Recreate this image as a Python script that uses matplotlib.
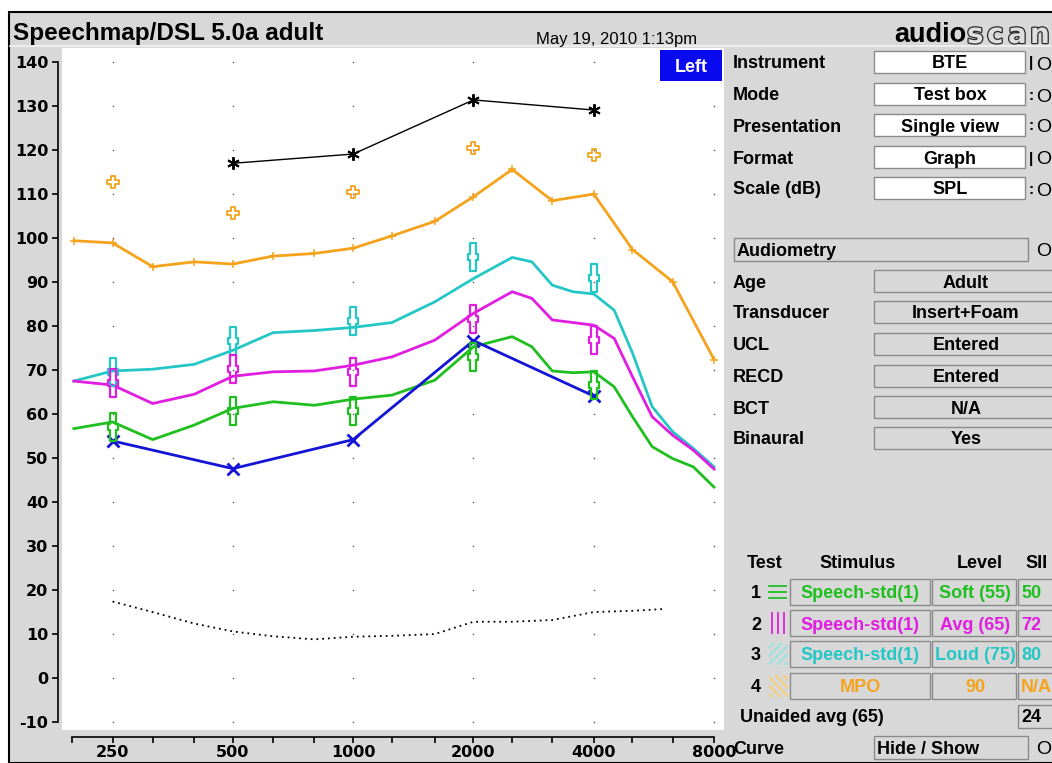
from pathlib import Path

import matplotlib

matplotlib.use("Agg")
import matplotlib.pyplot as plt
import matplotlib.patheffects as pe
import numpy as np
from matplotlib.lines import Line2D
from matplotlib.patches import Rectangle
from matplotlib.path import Path as MPath
from matplotlib.ticker import FixedLocator, FixedFormatter, NullFormatter

plt.rcParams["font.family"] = ["Liberation Sans", "DejaVu Sans"]
plt.rcParams["hatch.linewidth"] = 1.6
plt.rcParams["axes.unicode_minus"] = False

# ---- data ----
OCTAVE_FREQS = [250, 500, 1000, 2000, 4000, 8000]
OCTAVE_LABELS = ["250", "500", "1000", "2000", "4000", "8000"]
MINOR_FREQS = [198.4, 315, 400, 630, 800, 1250, 1600, 2500, 3150, 5000, 6300]
DB_TICKS = [-10, 0, 10, 20, 30, 40, 50, 60, 70, 80, 90, 100, 110, 120, 130, 140]

SPEECH_FREQS = [200, 250, 315, 400, 500, 630, 800, 1000, 1250, 1600, 2000,
                2500, 2800, 3150, 3550, 4000, 4500, 5000, 5600, 6300, 7100, 8000]
SOFT_55 = [56.7, 58.2, 54.2, 57.5, 61.3, 62.8, 62.0, 63.4, 64.3, 67.7, 75.3,
           77.6, 75.3, 69.8, 69.4, 69.6, 66.2, 59.4, 52.6, 49.9, 48.0, 43.4]
AVG_65 = [67.5, 66.6, 62.4, 64.5, 68.6, 69.6, 69.8, 71.1, 73.0, 76.8, 82.9,
          87.8, 86.3, 81.4, 80.8, 80.2, 77.2, 68.5, 59.4, 55.2, 51.8, 47.5]
LOUD_75 = [67.5, 69.8, 70.2, 71.3, 74.5, 78.5, 79.0, 79.7, 80.8, 85.5, 90.8,
           95.6, 94.6, 89.3, 87.8, 87.3, 83.6, 73.9, 61.7, 56.0, 52.2, 48.0]

MPO_FREQS = [200, 250, 315, 400, 500, 630, 800, 1000, 1250, 1600, 2000,
             2500, 3150, 4000, 5000, 6300, 8000]
MPO_90 = [99.4, 98.9, 93.5, 94.6, 94.1, 95.9, 96.5, 97.7, 100.5, 103.8, 109.4,
          115.6, 108.5, 110.0, 97.4, 90.1, 72.4]

TARGET_FREQS = [250, 500, 1000, 2000, 4000]
TARGET_SOFT = [57.1, 60.8, 60.7, 72.9, 66.6]
TARGET_AVG = [67.0, 70.2, 69.6, 81.7, 76.8]
TARGET_LOUD = [69.6, 76.7, 81.2, 95.6, 91.0]
TARGET_MPO = [112.7, 105.8, 110.5, 120.5, 118.9]

UCL_FREQS = [500, 1000, 2000, 4000]
UCL = [117.0, 119.1, 131.4, 129.1]

THRESH_FREQS = [250, 500, 1000, 2000, 4000]
THRESHOLD = [53.9, 47.6, 54.2, 76.7, 64.1]

NORMAL_FREQS = [250, 315, 400, 500, 630, 800, 1000, 1250, 1600, 2000, 2500,
                3150, 4000, 5000, 6000]
NORMAL = [17.4, 15.0, 12.4, 10.6, 9.5, 8.8, 9.4, 9.6, 10.0, 12.8, 12.8,
          13.2, 15.0, 15.3, 15.7]

SETUP_LABELS = ["Instrument", "Mode", "Presentation", "Format", "Scale (dB)"]
SETUP_VALUES = ["BTE", "Test box", "Single view", "Graph", "SPL"]
AUDIO_LABELS = ["Age", "Transducer", "UCL", "RECD", "BCT", "Binaural"]
AUDIO_VALUES = ["Adult", "Insert+Foam", "Entered", "Entered", "N/A", "Yes"]
TEST_STIMULUS = ["Speech-std(1)", "Speech-std(1)", "Speech-std(1)", "MPO"]
TEST_LEVEL = ["Soft (55)", "Avg (65)", "Loud (75)", "90"]
TEST_SII = ["50", "72", "80", "N/A"]

GREEN = "#1fbf1f"
MAGENTA = "#e11de1"
CYAN = "#25c6c6"
ORANGE = "#f5a21c"
BLUE = "#1414d6"
BG = "#d8d8d8"

W, H = 1052, 763


def fx(x):
    return x / W


def fy(y):
    return 1 - y / H


def cross_marker(v, h, hh):
    verts = [(-v, 1), (v, 1), (v, hh), (h, hh), (h, -hh), (v, -hh), (v, -1),
             (-v, -1), (-v, -hh), (-h, -hh), (-h, hh), (-v, hh), (-v, 1)]
    return MPath(verts, closed=True)


def build_plot():
    fig = plt.figure(figsize=(W / 100, H / 100), dpi=100)
    fig.patch.set_facecolor("white")

    def box(x0, y0, x1, y1, fc, ec="#8a8a8a"):
        fig.add_artist(Rectangle((fx(x0), fy(y1)), fx(x1) - fx(x0), fy(y0) - fy(y1),
                                 transform=fig.transFigure, facecolor=fc,
                                 edgecolor=ec, lw=1.0))

    def text(x, y, s, **kw):
        kw.setdefault("fontsize", 13)
        kw.setdefault("fontweight", "bold")
        kw.setdefault("va", "center_baseline")
        fig.text(fx(x), fy(y), s, **kw)

    # window background, kept behind the graph
    fig.add_artist(Rectangle((fx(9), 0), 1 - fx(9) + 0.01, fy(12), transform=fig.transFigure,
                             facecolor=BG, edgecolor="black", lw=1.5, zorder=-5))
    fig.add_artist(Line2D([fx(10), 1], [fy(46), fy(46)], transform=fig.transFigure,
                          color="#f2f2f2", lw=1.2, zorder=-4))

    # header
    text(13, 31, "Speechmap/DSL 5.0a adult", fontsize=17.5)
    text(617, 38, "May 19, 2010 1:13pm", fontsize=12, fontweight="normal", ha="center")
    text(966, 32, "audio", fontsize=19.5, fontweight="heavy", ha="right")
    for x, ch in zip((967, 987, 1008, 1030), "scan"):
        text(x, 32, ch, fontsize=20, fontweight="bold", ha="left", color="#dedede",
             family="DejaVu Sans",
             path_effects=[pe.withStroke(linewidth=1.8, foreground="#2a2a2a")])

    # ---- graph ----
    ax = fig.add_axes([fx(62), fy(730), fx(724) - fx(62), fy(48) - fy(730)])
    ax.set_facecolor("white")
    ax.set_xscale("log", base=2)
    ax.set_xlim(186.8, 8472)
    ax.set_ylim(-11.8, 143.2)
    for side in ("top", "right"):
        ax.spines[side].set_visible(False)
    ax.spines["left"].set_position(("outward", 2.9))
    ax.spines["left"].set_bounds(-10, 140)
    ax.spines["bottom"].set_position(("outward", 5))
    ax.spines["bottom"].set_bounds(198.4, 8000)
    for side in ("left", "bottom"):
        ax.spines[side].set_linewidth(1.2)

    ax.yaxis.set_major_locator(FixedLocator(DB_TICKS))
    ax.yaxis.set_minor_locator(FixedLocator([]))
    ax.tick_params(axis="y", direction="out", length=4.5, width=1.2, pad=2.5,
                   labelsize=11.5)
    ax.xaxis.set_major_locator(FixedLocator(OCTAVE_FREQS))
    ax.xaxis.set_major_formatter(FixedFormatter(OCTAVE_LABELS))
    ax.xaxis.set_minor_locator(FixedLocator(MINOR_FREQS))
    ax.xaxis.set_minor_formatter(NullFormatter())
    ax.tick_params(axis="x", which="both", direction="out", length=4, width=1.2,
                   pad=1.5, labelsize=11.5)
    for lab in ax.get_xticklabels() + ax.get_yticklabels():
        lab.set_fontweight("bold")
        lab.set_family("DejaVu Sans")

    gx, gy = np.meshgrid(OCTAVE_FREQS, DB_TICKS)
    ax.scatter(gx.ravel(), gy.ravel(), s=1.2, color="#555555", lw=0, zorder=1)

    ax.plot(NORMAL_FREQS, NORMAL, color="black", lw=1.3, dashes=(1, 2.2), zorder=2)

    ax.plot(MPO_FREQS, MPO_90, color=ORANGE, lw=2, marker="+", ms=6, mew=1.1, zorder=3)
    ax.plot(SPEECH_FREQS, LOUD_75, color=CYAN, lw=2, zorder=3)
    ax.plot(SPEECH_FREQS, AVG_65, color=MAGENTA, lw=2, zorder=3)
    ax.plot(SPEECH_FREQS, SOFT_55, color=GREEN, lw=2, zorder=3)

    ax.plot(THRESH_FREQS, THRESHOLD, color=BLUE, lw=2, marker="x", ms=9, mew=2, zorder=4)
    ax.plot(UCL_FREQS, UCL, color="black", lw=1, marker=(6, 2, 0), ms=9, mew=1.4, zorder=4)

    tgt = cross_marker(0.2, 0.38, 0.2)
    for vals, col in ((TARGET_LOUD, CYAN), (TARGET_AVG, MAGENTA), (TARGET_SOFT, GREEN)):
        ax.plot(TARGET_FREQS, vals, ls="none", marker=tgt, ms=19.5, mfc="none",
                mec=col, mew=1.6, zorder=5)
    plus = cross_marker(0.33, 1.0, 0.33)
    ax.plot(TARGET_FREQS, TARGET_MPO, ls="none", marker=plus, ms=9, mfc="none",
            mec=ORANGE, mew=1.3, zorder=5)

    # ear tag
    fig.add_artist(Rectangle((fx(660), fy(81)), fx(722) - fx(660), fy(50) - fy(81),
                             transform=fig.transFigure, facecolor="#0a0af0", lw=0))
    text(691, 65, "Left", color="white", ha="center")

    # ---- right panel ----
    setup_y = [62, 94, 125, 157, 188]
    marks = ["|", ":", ":", "|", ":"]
    for y, lab, val, mk in zip(setup_y, SETUP_LABELS, SETUP_VALUES, marks):
        text(733, y, lab)
        box(874, y - 11, 1025, y + 11, "white")
        text(950, y, val, ha="center")
        text(1031, y, mk, ha="center", fontsize=11)
        text(1036, y + 1, "O", fontsize=14, fontweight="normal")

    box(734, 238, 1028, 261, BG)
    text(737, 249, "Audiometry")
    text(1036, 250, "O", fontsize=14, fontweight="normal")

    audio_y = [281, 312, 344, 376, 407, 438]
    for y, lab, val in zip(audio_y, AUDIO_LABELS, AUDIO_VALUES):
        text(733, y, lab)
        box(874, y - 11, 1060, y + 11, BG)
        text(966, y, val, ha="center")

    text(765, 561, "Test", ha="center")
    text(858, 561, "Stimulus", ha="center")
    text(980, 561, "Level", ha="center")
    text(1037, 561, "SII", ha="center")

    row_y = [592, 623, 654, 686]
    colors = [GREEN, MAGENTA, CYAN, ORANGE]
    for i, (y, stim, lev, sii, col) in enumerate(
            zip(row_y, TEST_STIMULUS, TEST_LEVEL, TEST_SII, colors)):
        text(756, y, str(i + 1), ha="center")
        box(790, y - 13, 930, y + 13, BG)
        box(932, y - 13, 1016, y + 13, BG)
        box(1018, y - 13, 1060, y + 13, BG)
        text(860, y, stim, ha="center", color=col)
        text(975, y, lev, ha="center", color=col)
        text(1021, y, sii, ha="left", color=col)

    # test symbols
    y = row_y[0]
    for dy in (-6, 0, 6):
        fig.add_artist(Line2D([fx(769), fx(786)], [fy(y + dy), fy(y + dy)],
                              transform=fig.transFigure, color=GREEN, lw=1.3))
    y = row_y[1]
    for x in (772, 778, 784):
        fig.add_artist(Line2D([fx(x), fx(x)], [fy(y - 10), fy(y + 10)],
                              transform=fig.transFigure, color=MAGENTA, lw=1.3))
    for y, col, hat in ((row_y[2], "#9fe0e0", "////"), (row_y[3], "#f5cf80", "\\\\\\\\")):
        fig.add_artist(Rectangle((fx(769), fy(y + 11)), fx(788) - fx(769), fy(y - 11) - fy(y + 11),
                                 transform=fig.transFigure, facecolor="none",
                                 edgecolor=col, lw=0, hatch=hat))

    text(740, 716, "Unaided avg (65)")
    box(1018, 705, 1060, 728, BG)
    text(1021, 716, "24", ha="left")

    text(733, 747, "Curve")
    box(874, 736, 1028, 759, BG)
    text(877, 747, "Hide / Show")
    text(1036, 748, "O", fontsize=14, fontweight="normal")

    return fig


def main() -> None:
    fig = build_plot()
    fig.savefig(Path(__file__).with_name("out.png"), dpi=100)


if __name__ == "__main__":
    main()
